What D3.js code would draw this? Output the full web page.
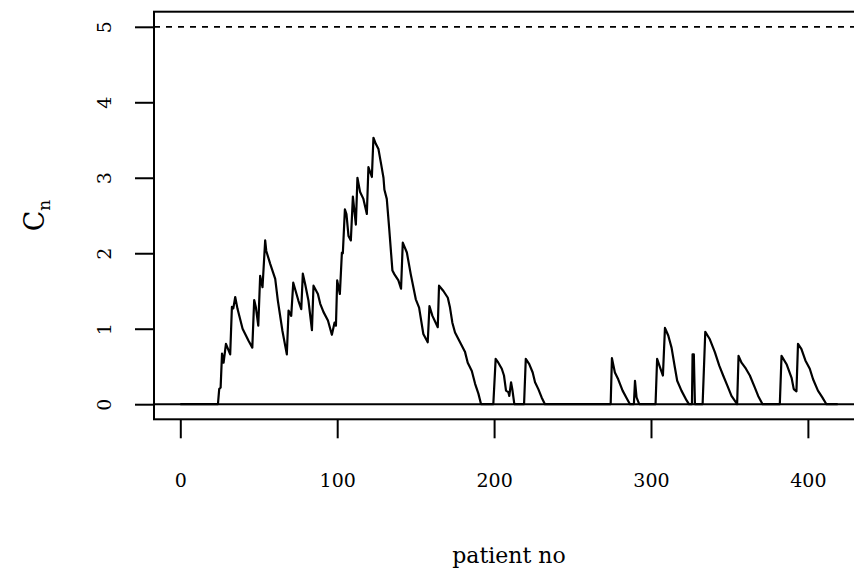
<!DOCTYPE html>
<html>
<head>
<meta charset="utf-8">
<script src="https://cdn.jsdelivr.net/npm/d3@7"></script>
<style>
  html, body { margin: 0; padding: 0; background: #fff; }
  svg text { font-family: "DejaVu Serif", "Liberation Serif", serif; fill: #000; }
</style>
</head>
<body>
<svg id="chart" width="854" height="574"></svg>
<script>
// CUSUM chart: vertices of the C_n trace
const patientNo = [0, 24.0, 24.8, 25.7, 26.6, 27.6, 29.1, 31.8, 32.9, 33.8, 35.0, 36.5, 39.7, 43.5, 45.9,
  47.1, 48.2, 49.7, 50.9, 52.4, 54.1, 54.8, 57.3, 60.5, 62.2, 65.1, 67.9, 69.0, 70.7, 72.0, 75.3,
  77.1, 78.1, 79.6, 81.7, 83.9, 84.9, 87.7, 89.2, 91.3, 94.1, 96.6, 98.3, 99.2, 100.0, 101.7, 103.0,
  103.6, 104.9, 105.9, 107.2, 108.7, 110.0, 111.9, 112.9, 114.6, 116.7, 118.9, 119.9, 122.1, 123.1,
  124.6, 126.3, 128.0, 129.5, 130.1, 131.6, 133.1, 135.2, 136.5, 139.0, 140.7, 141.8, 144.4, 146.9,
  150.1, 152.2, 154.9, 157.7, 158.8, 160.7, 164.1, 164.9, 167.7, 170.5, 171.9, 173.4, 175.1, 178.3,
  181.5, 183.2, 185.8, 187.9, 190.0, 191.7, 199.5, 201.0, 202.7, 204.9, 206.3, 207.6, 209.1, 209.7,
  210.8, 211.6, 212.9, 219.1, 220.2, 222.4, 224.6, 226.1, 228.2, 230.3, 232.4, 274.3, 275.1, 277.0,
  279.1, 281.9, 284.5, 286.6, 289.1, 289.8, 290.8, 292.5, 302.9, 303.9, 305.7, 307.6, 308.9, 311.0,
  313.1, 315.2, 316.7, 319.4, 322.7, 324.2, 326.1, 326.5, 327.3, 328.0, 332.9, 334.6, 337.5, 340.7,
  343.5, 346.0, 348.6, 351.3, 354.9, 355.8, 357.7, 360.5, 363.0, 366.2, 368.3, 371.1, 382.1, 383.2,
  386.4, 389.6, 391.0, 392.7, 393.7, 395.9, 398.4, 401.2, 403.3, 406.4, 409.2, 411.8, 419];
const cusum = [0, 0, 0.20, 0.22, 0.67, 0.55, 0.80, 0.66, 1.29, 1.27, 1.42, 1.26, 1.00, 0.84, 0.75,
  1.38, 1.28, 1.04, 1.70, 1.55, 2.17, 2.03, 1.86, 1.66, 1.37, 0.97, 0.66, 1.24, 1.17, 1.61, 1.37,
  1.26, 1.73, 1.59, 1.37, 0.98, 1.57, 1.46, 1.33, 1.22, 1.11, 0.92, 1.08, 1.04, 1.64, 1.46, 2.01,
  2.00, 2.58, 2.52, 2.23, 2.17, 2.75, 2.38, 3.00, 2.81, 2.72, 2.52, 3.14, 3.01, 3.53,
  3.45, 3.38, 3.18, 3.00, 2.84, 2.72, 2.34, 1.77, 1.72, 1.64, 1.53, 2.14, 2.01, 1.72,
  1.39, 1.28, 0.93, 0.82, 1.30, 1.17, 1.02, 1.57, 1.50, 1.41, 1.28, 1.08, 0.95, 0.82,
  0.69, 0.55, 0.44, 0.27, 0.14, 0, 0, 0.60, 0.55, 0.47, 0.38, 0.18, 0.16, 0.11,
  0.29, 0.20, 0, 0, 0.60, 0.53, 0.42, 0.29, 0.20, 0.09, 0, 0, 0.61, 0.42,
  0.33, 0.18, 0.08, 0, 0, 0.31, 0.09, 0, 0, 0.60, 0.49, 0.38, 1.01, 0.91,
  0.75, 0.49, 0.31, 0.18, 0.05, 0, 0, 0.66, 0.66, 0, 0, 0.96, 0.86, 0.69,
  0.51, 0.38, 0.25, 0.11, 0, 0.64, 0.55, 0.47, 0.38, 0.22, 0.11, 0, 0, 0.64,
  0.53, 0.35, 0.20, 0.17, 0.80, 0.73, 0.58, 0.47, 0.33, 0.18, 0.09, 0, 0];
const xTicks = [0, 100, 200, 300, 400];
const yTicks = [0, 1, 2, 3, 4, 5];
const limitH = 5;

const svg = d3.select('#chart');
const plot = { left: 154, top: 11.7, right: 864, bottom: 419.3 };

// R style 4% padding on each side
const xMin = 0, xMax = 419;
const xPad = (xMax - xMin) * 0.04;
const x = d3.scaleLinear().domain([xMin - xPad, xMax + xPad]).range([plot.left, plot.right]);
const y = d3.scaleLinear().domain([0 - 0.2, 5 + 0.2]).range([plot.bottom, plot.top]);

svg.append('rect').attr('width', 854).attr('height', 574).attr('fill', '#fff');

svg.append('defs').append('clipPath').attr('id', 'clip')
  .append('rect')
  .attr('x', plot.left).attr('y', plot.top)
  .attr('width', plot.right - plot.left).attr('height', plot.bottom - plot.top);

const g = svg.append('g').attr('clip-path', 'url(#clip)');

// reference lines
g.append('line')
  .attr('x1', plot.left).attr('x2', plot.right)
  .attr('y1', y(0)).attr('y2', y(0))
  .attr('stroke', '#000').attr('stroke-width', 2);
g.append('line')
  .attr('x1', plot.left).attr('x2', plot.right)
  .attr('y1', y(limitH)).attr('y2', y(limitH))
  .attr('stroke', '#000').attr('stroke-width', 1.8)
  .attr('stroke-dasharray', '6,6');

const line = d3.line()
  .x(function(d, i) { return x(patientNo[i]); })
  .y(function(d) { return y(d); });

g.append('path')
  .datum(cusum)
  .attr('fill', 'none')
  .attr('stroke', '#000')
  .attr('stroke-width', 2.2)
  .attr('stroke-linejoin', 'round')
  .attr('d', line);

// box
svg.append('rect')
  .attr('x', plot.left).attr('y', plot.top)
  .attr('width', plot.right - plot.left).attr('height', plot.bottom - plot.top)
  .attr('fill', 'none').attr('stroke', '#000').attr('stroke-width', 2);

// axes
const xAxis = svg.append('g')
  .attr('transform', `translate(0,${plot.bottom})`)
  .call(d3.axisBottom(x).tickValues(xTicks).tickSize(19).tickPadding(35).tickSizeOuter(0));
xAxis.select('.domain').remove();
xAxis.selectAll('line').attr('stroke-width', 2);
xAxis.selectAll('text').style('font-size', '19px').attr('font-family', null);

const yAxis = svg.append('g')
  .attr('transform', `translate(${plot.left},0)`)
  .call(d3.axisLeft(y).tickValues(yTicks).tickSize(19).tickSizeOuter(0).tickFormat(d3.format('d')));
yAxis.select('.domain').remove();
yAxis.selectAll('line').attr('stroke-width', 2);
yAxis.selectAll('text')
  .attr('x', null).attr('dy', null)
  .attr('text-anchor', 'middle')
  .attr('transform', 'translate(-43,0) rotate(-90)')
  .style('font-size', '19px').attr('font-family', null);

// axis titles
svg.append('text')
  .attr('x', (plot.left + plot.right) / 2).attr('y', 563)
  .attr('text-anchor', 'middle')
  .style('font-size', '22px')
  .text('patient no');

const yl = svg.append('text')
  .attr('transform', `translate(44,${(plot.top + plot.bottom) / 2}) rotate(-90)`)
  .attr('text-anchor', 'middle')
  .style('font-size', '27px');
yl.append('tspan').text('C');
yl.append('tspan').attr('dy', 6).style('font-size', '17px').text('n');
</script>
</body>
</html>
